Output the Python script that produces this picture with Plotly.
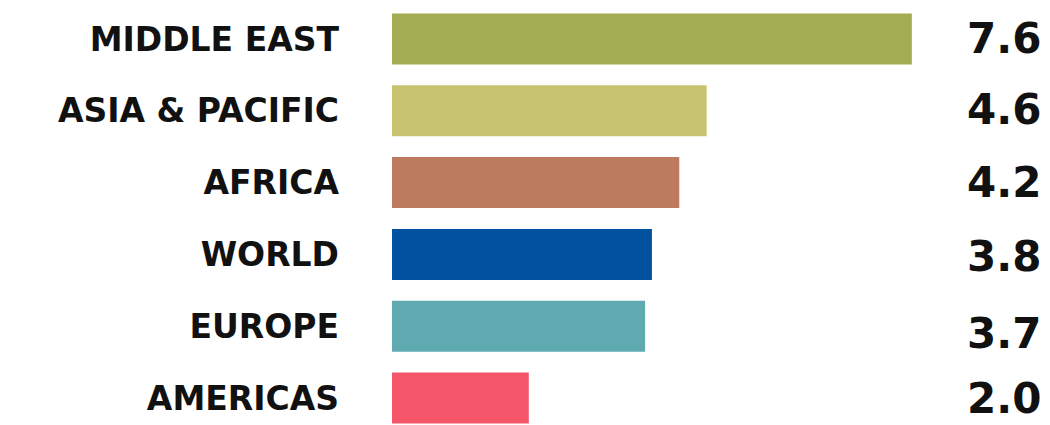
import plotly.graph_objects as go

regions = ["MIDDLE EAST", "ASIA & PACIFIC", "AFRICA", "WORLD", "EUROPE", "AMERICAS"]
values = [7.6, 4.6, 4.2, 3.8, 3.7, 2.0]
value_labels = ["7.6", "4.6", "4.2", "3.8", "3.7", "2.0"]
colors = ["#A4AC53", "#C8C370", "#BC7B5E", "#0051A0", "#5EAAB0", "#F5566A"]

fig = go.Figure(
    go.Bar(
        x=values,
        y=regions,
        orientation="h",
        marker=dict(color=colors, line=dict(width=0)),
        width=0.71,
        hoverinfo="skip",
    )
)

label_nudge = [1, 1, 0, -2, -7, 0]
for r, t, n in zip(regions, value_labels, label_nudge):
    fig.add_annotation(
        x=1, xref="paper", xanchor="right", xshift=-8,
        y=r, yref="y", yanchor="middle", yshift=n,
        text=t, showarrow=False, borderpad=0,
        font=dict(family="DejaVu Sans", size=42, color="#111111", weight="bold"),
    )

fig.update_layout(
    width=1042, height=417,
    margin=dict(l=384, r=0, t=0, b=0),
    paper_bgcolor="white", plot_bgcolor="white",
    showlegend=False,
    bargap=0.29,
    xaxis=dict(range=[0, 9.62], visible=False, fixedrange=True),
    yaxis=dict(
        categoryorder="array", categoryarray=regions,
        range=[5.376, -0.432],
        showgrid=False, zeroline=False, showline=False,
        ticks="", ticklabelstandoff=52,
        tickfont=dict(family="DejaVu Sans", size=33, color="#111111", weight="bold"),
    ),
)

fig.write_html("out.html")
